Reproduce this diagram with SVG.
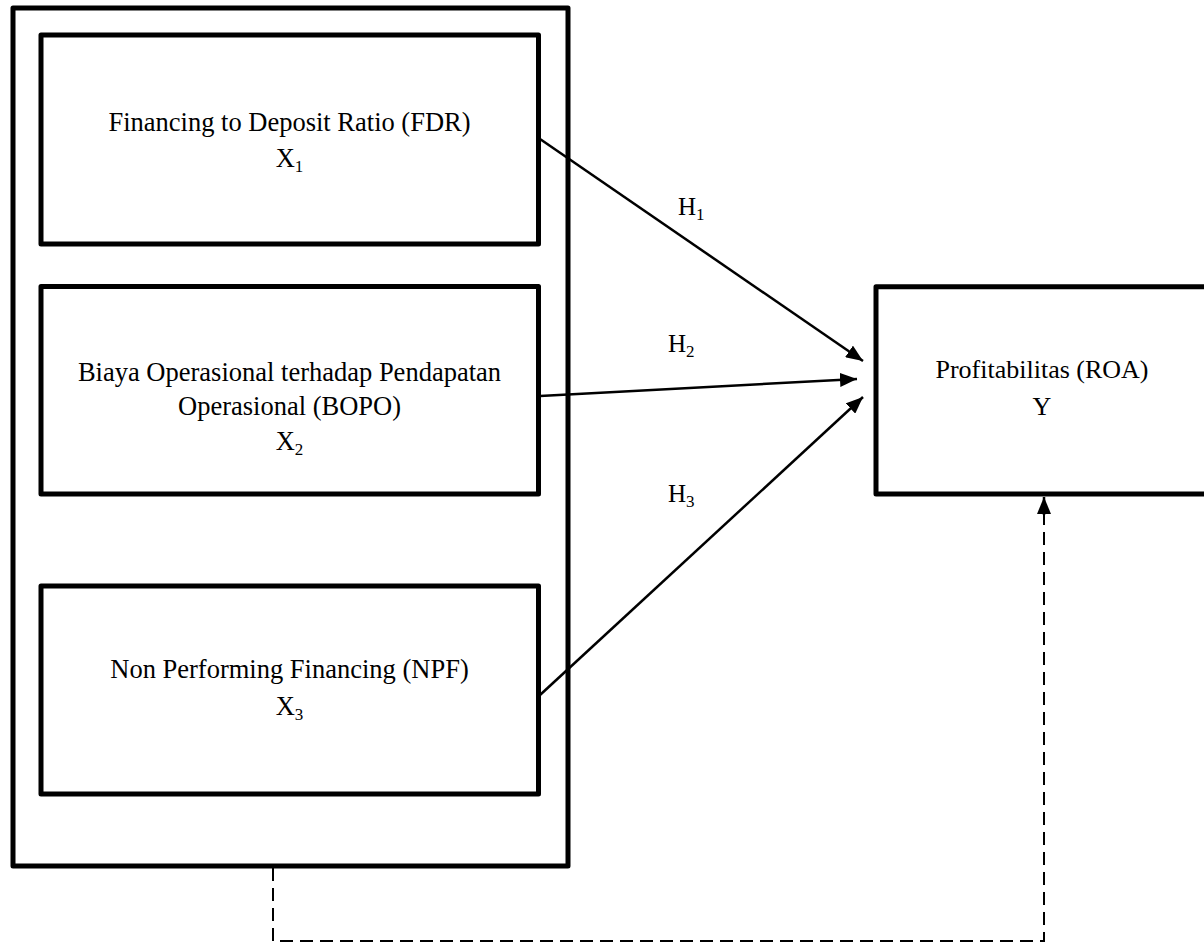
<svg xmlns="http://www.w3.org/2000/svg" width="1204" height="945" viewBox="0 0 1204 945">
<defs>
<style>
.box{fill:none;stroke:#000;stroke-width:5;stroke-linejoin:round}
.t{font-family:"Liberation Serif","Times New Roman",serif;font-size:26.5px;fill:#000;text-anchor:middle}
.ty{font-family:"Liberation Serif","Times New Roman",serif;font-size:26px;fill:#000;text-anchor:middle}
.h{font-family:"Liberation Serif","Times New Roman",serif;font-size:25px;fill:#000}
.sub{font-size:17px}
.ln{fill:none;stroke:#000;stroke-width:2.5}
.dash{fill:none;stroke:#000;stroke-width:2;stroke-dasharray:13 7}
</style>
<marker id="ah" markerWidth="18" markerHeight="14" refX="17" refY="7" orient="auto" markerUnits="userSpaceOnUse">
<path d="M0,0 L17,7 L0,14 Z" fill="#000"/>
</marker>
</defs>
<rect width="1204" height="945" fill="#fff"/>
<g id="group-x">
<rect class="box" x="13" y="8" width="555" height="858"/>
</g>
<g id="node-x1">
<rect class="box" x="41" y="35" width="497.5" height="209"/>
<text class="t" x="289.5" y="131">Financing to Deposit Ratio (FDR)</text>
<text class="t" x="289.5" y="167">X<tspan class="sub" dy="5">1</tspan></text>
</g>
<g id="node-x2">
<rect class="box" x="41" y="286.5" width="497.5" height="207.5"/>
<text class="t" x="289.5" y="381">Biaya Operasional terhadap Pendapatan</text>
<text class="t" x="289.5" y="415">Operasional (BOPO)</text>
<text class="t" x="289.5" y="450">X<tspan class="sub" dy="5">2</tspan></text>
</g>
<g id="node-x3">
<rect class="box" x="41" y="586" width="497.5" height="208"/>
<text class="t" x="289.5" y="678">Non Performing Financing (NPF)</text>
<text class="t" x="289.5" y="715">X<tspan class="sub" dy="5">3</tspan></text>
</g>
<g id="node-y">
<rect class="box" x="876" y="286.7" width="340" height="207.3"/>
<text class="ty" x="1042" y="378">Profitabilitas (ROA)</text>
<text class="ty" x="1042" y="415">Y</text>
</g>
<g id="connectors">
<line class="ln" x1="540" y1="139" x2="863" y2="361" marker-end="url(#ah)"/>
<line class="ln" x1="540" y1="396" x2="857" y2="379" marker-end="url(#ah)"/>
<line class="ln" x1="540" y1="695" x2="863" y2="397" marker-end="url(#ah)"/>
<path class="dash" d="M273,868 L273,941 L1044,941 L1044,512"/>
<line class="ln" x1="1044" y1="515" x2="1044" y2="497" marker-end="url(#ah)"/>
<text class="h" x="678" y="215">H<tspan class="sub" dy="5">1</tspan></text>
<text class="h" x="668" y="352">H<tspan class="sub" dy="5">2</tspan></text>
<text class="h" x="668" y="502">H<tspan class="sub" dy="5">3</tspan></text>
</g>
</svg>
